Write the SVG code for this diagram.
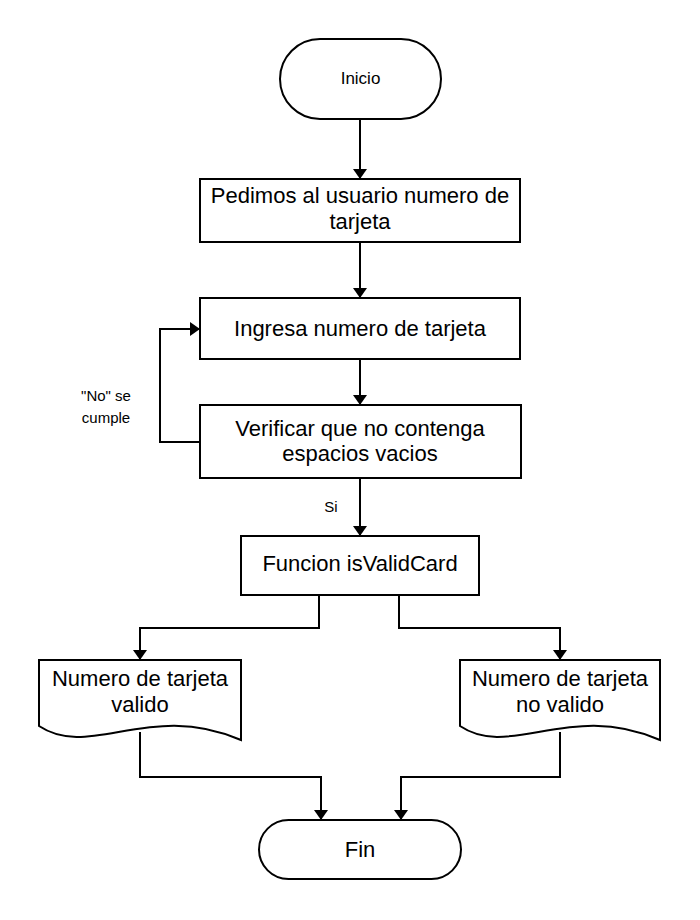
<svg xmlns="http://www.w3.org/2000/svg" width="700" height="920" viewBox="0 0 700 920">
<style>
.s{fill:#fff;stroke:#000;stroke-width:2}
.t{font-family:"Liberation Sans",Arial,sans-serif;font-size:22px;fill:#000;text-anchor:middle}
.l{font-family:"Liberation Sans",Arial,sans-serif;font-size:15px;fill:#000;text-anchor:middle}
.c{fill:none;stroke:#000;stroke-width:2}
</style>
<defs>
<marker id="a" viewBox="0 0 10 14" refX="10" refY="7" markerWidth="10" markerHeight="14" markerUnits="userSpaceOnUse" orient="auto">
<path d="M0,0 L10,7 L0,14 Z" fill="#000"/>
</marker>
</defs>
<rect width="700" height="920" fill="#fff"/>
<g id="connectors">
<path class="c" d="M360,119 V179" marker-end="url(#a)"/>
<path class="c" d="M360,242 V298" marker-end="url(#a)"/>
<path class="c" d="M360,359 V405" marker-end="url(#a)"/>
<path class="c" d="M200,442 H160 V329 H200" marker-end="url(#a)"/>
<path class="c" d="M360,478 V536" marker-end="url(#a)"/>
<path class="c" d="M319,595 V628 H140 V660" marker-end="url(#a)"/>
<path class="c" d="M399,595 V628 H560 V660" marker-end="url(#a)"/>
<path class="c" d="M140,732 V777 H321 V820" marker-end="url(#a)"/>
<path class="c" d="M560,732 V777 H401 V820" marker-end="url(#a)"/>
<text class="l" x="106" y="401">"No" se</text>
<text class="l" x="106" y="423">cumple</text>
<text class="l" x="331" y="512">Si</text>
</g>
<g id="inicio">
<rect class="s" x="280" y="39" width="161" height="80" rx="40"/>
<text class="t" x="360.5" y="84" style="font-size:17px">Inicio</text>
</g>
<g id="pedimos">
<rect class="s" x="200" y="179" width="320" height="63"/>
<text class="t" x="360" y="203">Pedimos al usuario numero de</text>
<text class="t" x="360" y="229">tarjeta</text>
</g>
<g id="ingresa">
<rect class="s" x="200" y="298" width="320" height="61"/>
<text class="t" x="360" y="336">Ingresa numero de tarjeta</text>
</g>
<g id="verificar">
<rect class="s" x="200" y="405" width="321" height="73"/>
<text class="t" x="360" y="436">Verificar que no contenga</text>
<text class="t" x="360" y="461">espacios vacios</text>
</g>
<g id="funcion">
<rect class="s" x="241" y="536" width="238" height="59"/>
<text class="t" x="360" y="571">Funcion isValidCard</text>
</g>
<g id="valido">
<path class="s" d="M39,660 H241 V740 C150,700 90,760 39,726 Z"/>
<text class="t" x="140" y="686">Numero de tarjeta</text>
<text class="t" x="140" y="712">valido</text>
</g>
<g id="novalido">
<path class="s" d="M460,660 H660 V740 C570,700 510,760 460,726 Z"/>
<text class="t" x="560" y="686">Numero de tarjeta</text>
<text class="t" x="560" y="712">no valido</text>
</g>
<g id="fin">
<rect class="s" x="259" y="820" width="202" height="59" rx="29.5"/>
<text class="t" x="360" y="857">Fin</text>
</g>
</svg>
